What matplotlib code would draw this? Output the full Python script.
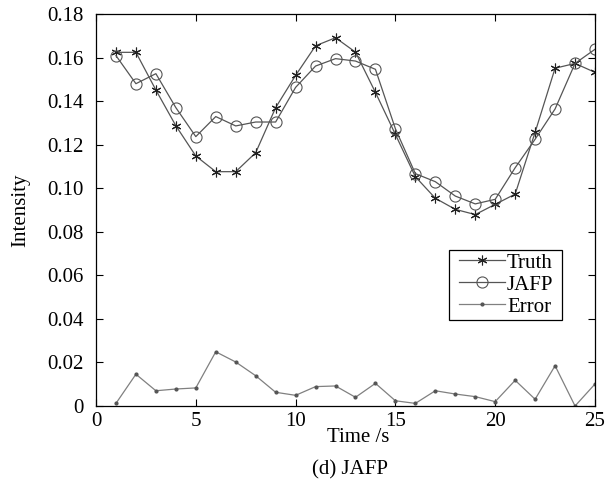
import matplotlib
matplotlib.use("Agg")
import matplotlib.pyplot as plt
from matplotlib.patches import Rectangle
import numpy as np

time = list(range(1, 26))
truth = [0.1624, 0.1624, 0.1451, 0.1287, 0.1148, 0.1076, 0.1076, 0.1163, 0.1370, 0.1518,
         0.1654, 0.1691, 0.1625, 0.1440, 0.1247, 0.1053, 0.0954, 0.0903, 0.0879, 0.0926,
         0.0973, 0.1257, 0.1551, 0.1573, 0.1532]
jafp = [0.1609, 0.1480, 0.1526, 0.1370, 0.1237, 0.1329, 0.1286, 0.1304, 0.1304, 0.1463,
        0.1561, 0.1595, 0.1584, 0.1546, 0.1273, 0.1067, 0.1030, 0.0964, 0.0928, 0.0949,
        0.1094, 0.1225, 0.1364, 0.1573, 0.1638]
error = [0.0012, 0.0146, 0.0070, 0.0078, 0.0083, 0.0249, 0.0202, 0.0139, 0.0063, 0.0049,
         0.0089, 0.0092, 0.0040, 0.0104, 0.0024, 0.0012, 0.0070, 0.0055, 0.0043, 0.0020,
         0.0118, 0.0031, 0.0185, 0.0000, 0.0101]
yticks = [0, 0.02, 0.04, 0.06, 0.08, 0.10, 0.12, 0.14, 0.16, 0.18]
ytick_labels = ["0", "0.02", "0.04", "0.06", "0.08", "0.10", "0.12", "0.14", "0.16", "0.18"]
xticks = [0, 5, 10, 15, 20, 25]

plt.rcParams['font.family'] = ['Liberation Serif', 'DejaVu Serif']
FS = 15

W, H = 606, 484
fig = plt.figure(figsize=(W / 100, H / 100), dpi=100)
L, R, T, B = 96, 595, 14, 406
ax = fig.add_axes([L / W, 1 - B / H, (R - L) / W, (B - T) / H])

lc = '#555555'
ax.plot(time, truth, '-', color=lc, lw=0.9, marker=(6, 2, 0), markersize=7,
        markeredgecolor='#222222', markeredgewidth=0.8, label='Truth')
ax.plot(time, jafp, '-', color=lc, lw=0.9, marker='o', markersize=8,
        markerfacecolor='none', markeredgecolor='#555555', markeredgewidth=0.8, label='JAFP')
ax.plot(time, error, '-', color='#808080', lw=0.9, marker='o', markersize=2.0,
        markerfacecolor='#555555', markeredgecolor='#555555', label='Error')

ax.set_xlim(0, 25)
ax.set_ylim(0, 0.18)
ax.set_xticks(xticks)
ax.set_xticklabels([str(x) for x in xticks])
ax.set_yticks(yticks)
ax.set_yticklabels(ytick_labels)
ax.tick_params(direction='in', top=True, right=True, length=5, width=0.8, labelsize=FS)
ax.tick_params(axis='y', pad=9)
ax.tick_params(axis='x', pad=4)
for s in ax.spines.values():
    s.set_linewidth(0.9)

ax.set_xlabel('Time /s', fontsize=FS)
ax.xaxis.set_label_coords((358 - L) / (R - L), -(438 - B) / (B - T))
ax.xaxis.label.set_va('center')
ax.set_ylabel('Intensity', fontsize=FS)
ax.yaxis.set_label_coords(-(L - 21) / (R - L), 0.5)
ax.yaxis.label.set_va('center')

leg = ax.legend(loc='upper left', bbox_to_anchor=(459 / W, 1 - 253 / H),
                bbox_transform=fig.transFigure,
                fontsize=FS, frameon=False,
                handlelength=2.2, handletextpad=0.1, borderpad=0.0, labelspacing=0.12,
                borderaxespad=0)
fig.patches.append(Rectangle((449 / W, 1 - 320 / H), (562 - 449) / W, (320 - 250) / H,
                             transform=fig.transFigure, fill=False, edgecolor='black',
                             linewidth=0.9, zorder=5))

fig.text(350 / W, 1 - 470 / H, '(d) JAFP', ha='center', va='center', fontsize=FS)

fig.savefig('out.png', dpi=100)
